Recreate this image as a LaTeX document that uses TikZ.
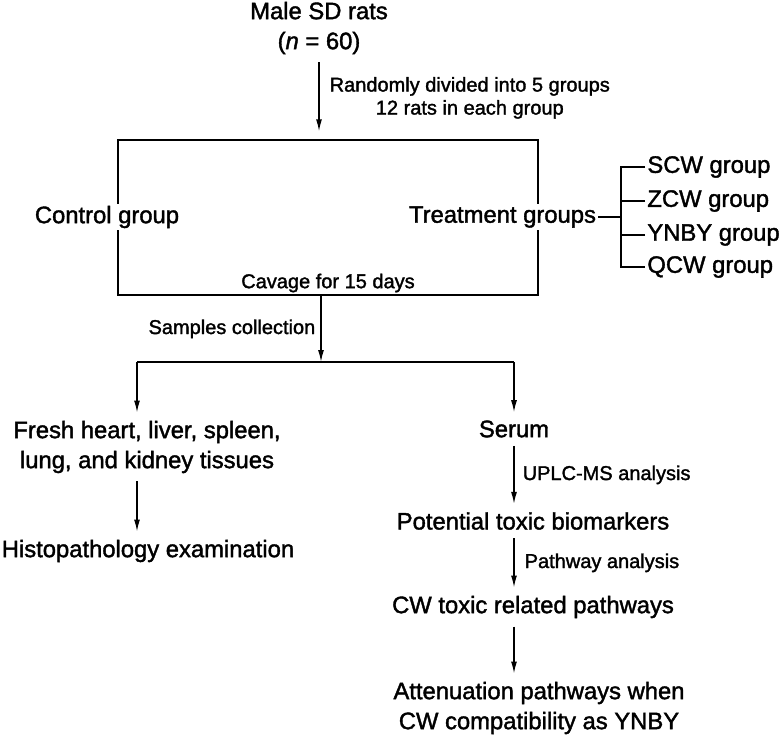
\documentclass[tikz,border=0pt]{standalone}
\usepackage{fontspec}
\setmainfont[FakeBold=1.6]{Liberation Sans}
\usetikzlibrary{arrows.meta}

\begin{document}
\begin{tikzpicture}[x=0.5pt,y=-0.5pt,
  main/.style={font=\fontsize{11.9}{15}\selectfont,align=center,inner sep=1pt},
  note/.style={font=\fontsize{10}{11.5}\selectfont,align=center,inner sep=1pt},
  link/.style={line width=0.7pt},
  flow/.style={link,-{Latex[length=6pt,width=3pt]},shorten >=3pt,shorten <=3pt}]
\useasboundingbox (0,0) rectangle (781,739);
\node (rats)      at (319,28)    [main] {Male SD rats\\(\textit{n} = 60)};
\node (box)       at (328,217.5) [link,draw,minimum width=210pt,minimum height=77.5pt] {};
\node (control)   at (107,217)   [main,fill=white] {Control group};
\node (treat)     at (502.5,217) [main,fill=white] {Treatment groups};
\node (scw)       at (645,167)   [main,anchor=west] {SCW group};
\node (zcw)       at (645,201)   [main,anchor=west] {ZCW group};
\node (ynby)      at (645,235)   [main,anchor=west] {YNBY group};
\node (qcw)       at (645,267)   [main,anchor=west] {QCW group};
\node (cavage)    at (328,283)   [note] {Cavage for 15 days};
\coordinate (brk)    at (621,217);
\coordinate (split)  at (321,362);
\coordinate (lsplit) at (137,362);
\coordinate (rsplit) at (514,362);
\node (tissue)    at (147,447)   [main] {Fresh heart, liver, spleen,\\lung, and kidney tissues};
\node (histo)     at (148,551)   [main] {Histopathology examination};
\node (serum)     at (514,429)   [main] {Serum};
\node (potential) at (533,521)   [main] {Potential toxic biomarkers};
\node (cwpath)    at (533,607)   [main] {CW toxic related pathways};
\node (atten)     at (539,708)   [main] {Attenuation pathways when\\CW compatibility as YNBY};
\draw [flow,shorten >=4pt] (rats) to node [note,right,inner xsep=5pt] {Randomly divided into 5 groups\\12 rats in each group} (rats |- box.north);
\draw [link] (treat) -- (brk);
\draw [link] (scw.west) -- (scw.west -| brk) -- (qcw.west -| brk) -- (qcw.west);
\draw [link] (zcw.west) -- (zcw.west -| brk);
\draw [link] (ynby.west) -- (ynby.west -| brk);
\draw [flow,shorten >=0pt,shorten <=0pt] (box.south -| split) to node [note,left,inner xsep=2.5pt] {Samples collection} (split);
\draw [link,line width=1pt] (lsplit) -- (rsplit);
\draw [flow,shorten <=0pt] (lsplit) -- (lsplit |- tissue.north);
\draw [flow,shorten <=0pt] (rsplit) -- (serum);
\draw [flow] (lsplit |- tissue.south) -- (lsplit |- histo.north);
\draw [flow] (serum) to node [note,right,inner xsep=4pt] {UPLC-MS analysis} (serum |- potential.north);
\draw [flow] (serum |- potential.south) to node [note,right,inner xsep=5pt] {Pathway analysis} (serum |- cwpath.north);
\draw [flow] (serum |- cwpath.south) -- (serum |- atten.north);
\end{tikzpicture}
\end{document}
